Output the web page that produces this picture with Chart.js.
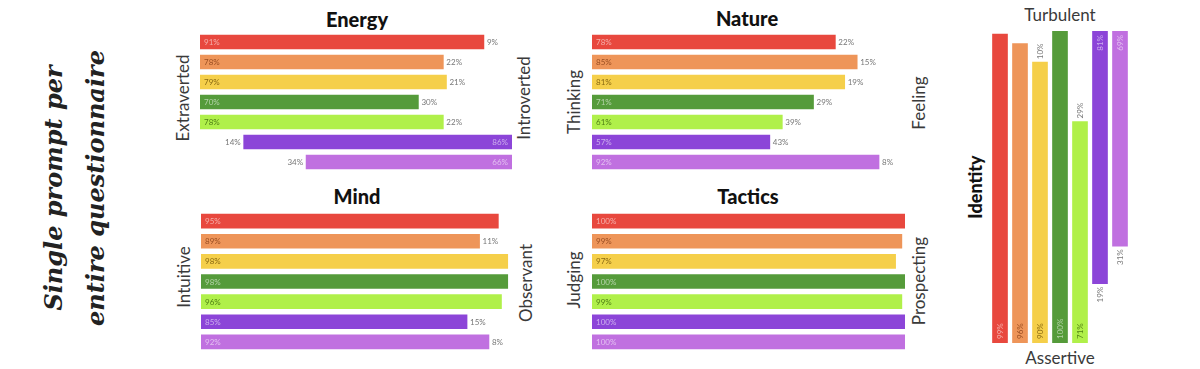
<!DOCTYPE html>
<html>
<head>
<meta charset="utf-8">
<script src="https://cdn.jsdelivr.net/npm/chart.js@4"></script>
<style>
body { margin:0; background:#fff; width:1200px; height:369px; position:relative; overflow:hidden; }
canvas { position:absolute; }
.t { position:absolute; white-space:nowrap; transform:translate(-50%,-50%); font-family:Lato, sans-serif; color:#222; }
.r { transform:translate(-50%,-50%) rotate(-90deg); }
.ttl { font-weight:900; font-size:20px; color:#111; }
.side { font-size:17px; color:#3a3a3a; }
.big { font-family:"DejaVu Serif", serif; font-style:italic; font-weight:bold; font-size:24px; line-height:42px; text-align:center; color:#222; }
</style>
</head>
<body>

<div class="t r big" style="left:75px; top:188px;">Single prompt per<br>entire questionnaire</div>

<div class="t ttl" style="left:357px; top:19px;">Energy</div>
<div class="t ttl" style="left:747px; top:18px;">Nature</div>
<div class="t ttl" style="left:357px; top:196px;">Mind</div>
<div class="t ttl" style="left:748px; top:196px;">Tactics</div>

<div class="t r side" style="left:182px; top:98px;">Extraverted</div>
<div class="t r side" style="left:523px; top:98px;">Introverted</div>
<div class="t r side" style="left:573px; top:102px;">Thinking</div>
<div class="t r side" style="left:918px; top:103px;">Feeling</div>
<div class="t r side" style="left:183px; top:277px;">Intuitive</div>
<div class="t r side" style="left:525px; top:283px;">Observant</div>
<div class="t r side" style="left:573px; top:280px;">Judging</div>
<div class="t r side" style="left:918px; top:281px;">Prospecting</div>

<div class="t side" style="left:1060px; top:14px;">Turbulent</div>
<div class="t side" style="left:1060px; top:357px;">Assertive</div>
<div class="t r ttl" style="left:975px; top:187px; font-size:18px;">Identity</div>

<canvas id="energy" width="312" height="140" style="left:200px; top:32px;"></canvas>
<canvas id="nature" width="312" height="140" style="left:592px; top:32px;"></canvas>
<canvas id="mind" width="313" height="141" style="left:201px; top:211px;"></canvas>
<canvas id="tactics" width="313" height="141" style="left:592px; top:211px;"></canvas>
<canvas id="identity" width="140" height="312" style="left:990px; top:31px;"></canvas>

<script>
// one row per model, same order in every panel
const models = ["m1","m2","m3","m4","m5","m6","m7"]
const colors = ["#e8483e","#ee9559","#f5cf4a","#559b3a","#b0f04a","#8c45d8","#c070e0"]
const innerText = ["rgba(255,255,255,0.55)","#9a4e22","#8a6a12","rgba(255,255,255,0.55)","#4f7f14","rgba(255,255,255,0.55)","rgba(255,255,255,0.55)"]

// share of the first (left / bottom) pole, in %
const extraverted = [91, 78, 79, 70, 78, 14, 34]
const thinking = [78, 85, 81, 71, 61, 57, 92]
const intuitive = [95, 89, 98, 98, 96, 85, 92]
const judging = [100, 99, 97, 100, 99, 100, 100]
const assertive = [99, 96, 90, 100, 71, 19, 31]

const pctLabels = {
    id: "pctLabels",
    afterDatasetsDraw(chart) {
        const ctx = chart.ctx
        const horiz = chart.options.indexAxis === "y"
        ctx.save()
        ctx.textBaseline = "middle"
        for (let d = 0; d < 2; d++) {
            const meta = chart.getDatasetMeta(d)
            const vals = chart.data.datasets[d].data
            for (let i = 0; i < vals.length; i++) {
                const v = vals[i]
                const el = meta.data[i]
                let pos, align, txtColor
                if (v >= 50) {
                    // inside the coloured bar, at its outer start
                    txtColor = innerText[i]
                    if (d == 0) { pos = horiz ? el.base + 4 : el.base - 4; align = "left" }
                    else { pos = horiz ? el.x - 4 : el.y + 4; align = "right" }
                } else if (v > 5) {
                    // small share, written just beyond the other bar
                    txtColor = "#777"
                    if (d == 0) { pos = horiz ? el.x - 3 : el.y + 3; align = "right" }
                    else { pos = horiz ? el.base + 3 : el.base - 3; align = "left" }
                } else continue
                ctx.fillStyle = txtColor
                ctx.font = "8px Lato, sans-serif"
                ctx.textAlign = align
                if (horiz) {
                    ctx.fillText(v + "%", pos, el.y + 0.5)
                } else {
                    ctx.save()
                    ctx.translate(el.x + 0.5, pos)
                    ctx.rotate(-Math.PI / 2)
                    ctx.fillText(v + "%", 0, 0)
                    ctx.restore()
                }
            }
        }
        ctx.restore()
    }
}

function makeChart(id, firstPole, horiz) {
    const second = firstPole.map(v => 100 - v)
    const valueAxis = { display: false, stacked: true, min: 0, max: 100 }
    const catAxis = { display: false, stacked: true }
    new Chart(id, {
        type: "bar",
        data: {
            labels: models,
            datasets: [
                { data: firstPole, backgroundColor: firstPole.map((v, i) => v >= 50 ? colors[i] : "rgba(0,0,0,0)"), barThickness: horiz ? 14 : 15, borderWidth: 0 },
                { data: second, backgroundColor: second.map((v, i) => v > 50 ? colors[i] : "rgba(0,0,0,0)"), barThickness: horiz ? 14 : 15, borderWidth: 0 }
            ]
        },
        options: {
            indexAxis: horiz ? "y" : "x",
            responsive: false,
            animation: false,
            layout: { padding: 0 },
            scales: horiz ? { x: valueAxis, y: catAxis } : { x: catAxis, y: valueAxis },
            plugins: { legend: { display: false }, tooltip: { enabled: false }, title: { display: false } }
        },
        plugins: [pctLabels]
    })
}

makeChart("energy", extraverted, true)
makeChart("nature", thinking, true)
makeChart("mind", intuitive, true)
makeChart("tactics", judging, true)
makeChart("identity", assertive, false)
</script>
</body>
</html>
